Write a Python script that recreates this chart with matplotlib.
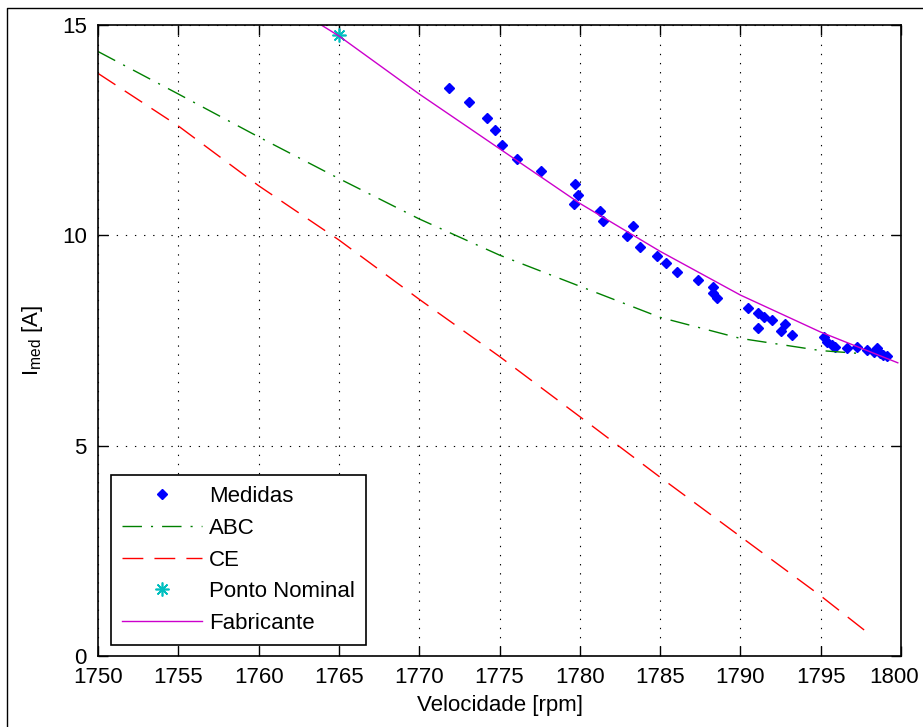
import matplotlib
matplotlib.use("Agg")
import matplotlib.pyplot as plt
from matplotlib.lines import Line2D
from matplotlib.transforms import ScaledTranslation

# measured points (rpm, A)
med_rpm = [1771.86, 1773.10, 1774.24, 1774.72, 1775.17, 1776.07, 1777.60, 1779.72,
           1779.91, 1779.62, 1781.26, 1781.46, 1783.33, 1782.96, 1783.75, 1784.83,
           1785.37, 1786.05, 1787.34, 1788.27, 1788.31, 1788.52, 1790.45, 1791.11,
           1791.47, 1791.11, 1791.95, 1792.78, 1792.51, 1793.23, 1795.21, 1795.37,
           1795.68, 1795.89, 1796.62, 1797.24, 1797.90, 1798.49, 1798.32, 1798.69,
           1798.90, 1799.11]
med_i = [13.51, 13.16, 12.80, 12.50, 12.15, 11.81, 11.54, 11.23,
         10.96, 10.74, 10.58, 10.35, 10.22, 9.99, 9.73, 9.52,
         9.35, 9.12, 8.95, 8.78, 8.62, 8.50, 8.28, 8.15,
         8.05, 7.80, 7.99, 7.89, 7.73, 7.62, 7.58, 7.47,
         7.39, 7.35, 7.33, 7.34, 7.27, 7.31, 7.23, 7.20,
         7.15, 7.14]

abc_rpm = [1750, 1755, 1760, 1765, 1770, 1775, 1780, 1785, 1790, 1795, 1797.5]
abc_i = [14.37, 13.36, 12.34, 11.35, 10.39, 9.53, 8.79, 8.05, 7.55, 7.26, 7.19]

ce_rpm = [1750, 1755, 1760, 1765, 1770, 1775, 1780, 1785, 1790, 1795, 1797.9]
ce_i = [13.85, 12.60, 11.18, 9.89, 8.48, 7.12, 5.69, 4.25, 2.84, 1.43, 0.56]

nominal_rpm = [1765]
nominal_i = [14.76]

fab_rpm = [1763.9, 1765, 1767.5, 1770, 1775, 1780, 1785, 1790, 1795, 1799.8]
fab_i = [15.0, 14.74, 14.05, 13.36, 12.06, 10.76, 9.62, 8.58, 7.70, 6.97]

xticks = list(range(1750, 1801, 5))
yticks = [0, 5, 10, 15]

fam = "Liberation Sans"
plt.rcParams["font.family"] = fam
plt.rcParams["mathtext.fontset"] = "custom"
plt.rcParams["mathtext.rm"] = fam
plt.rcParams["mathtext.default"] = "regular"
FS = 16

fig = plt.figure(figsize=(9.23, 7.27), dpi=100)
ax = fig.add_axes([98 / 923, 1 - 656 / 727, 803 / 923, 631 / 727])

ax.plot(med_rpm, med_i, "D", color="#0000ff", markersize=5, linestyle="none", label="Medidas")
ax.plot(abc_rpm, abc_i, color="#008000", lw=1.0, dashes=(14, 6.5, 1.5, 6.5), label="ABC")
ax.plot(ce_rpm, ce_i, color="#ff0000", lw=1.0, dashes=(15, 8), label="CE")
ax.plot(nominal_rpm, nominal_i, marker=(8, 2, 0), color="#00bfbf", markersize=10,
        mew=1.2, linestyle="none", label="Ponto Nominal")
ax.plot(fab_rpm, fab_i, color="#cc00cc", lw=1.0, label="Fabricante")

ax.set_xlim(1750, 1800)
ax.set_ylim(0, 15)
ax.set_xticks(xticks)
ax.set_yticks(yticks)
ax.grid(True, color="black", lw=0.8, linestyle=(0, (1.2, 7)))
ax.tick_params(direction="in", top=True, right=True, length=7, width=1,
               labelsize=FS)
ax.tick_params(axis="x", pad=8)
ax.tick_params(axis="y", pad=8)
for s in ax.spines.values():
    s.set_linewidth(1.2)

# keep the last x label inside the picture
last = ax.get_xticklabels()[-1]
last.set_transform(last.get_transform() + ScaledTranslation(-5 / 72, 0, fig.dpi_scale_trans))

ax.set_xlabel("Velocidade [rpm]", fontsize=FS, labelpad=5)
ax.set_ylabel(r"I$_{med}$ [A]", fontsize=FS, labelpad=12)

leg = ax.legend(loc="lower left", bbox_to_anchor=(13 / 803, 11 / 631), borderaxespad=0,
                fontsize=FS, fancybox=False, edgecolor="black", framealpha=1,
                handlelength=3.6, handletextpad=0.3, labelspacing=0.48,
                borderpad=0.5)
leg.get_frame().set_linewidth(1.2)

# outer frame of the original picture
fig.add_artist(Line2D([7 / 923, 7 / 923, 1.0], [0.0, 1 - 8 / 727, 1 - 8 / 727],
                      transform=fig.transFigure, color="black", lw=1.0))

fig.savefig("out.png", dpi=100)
